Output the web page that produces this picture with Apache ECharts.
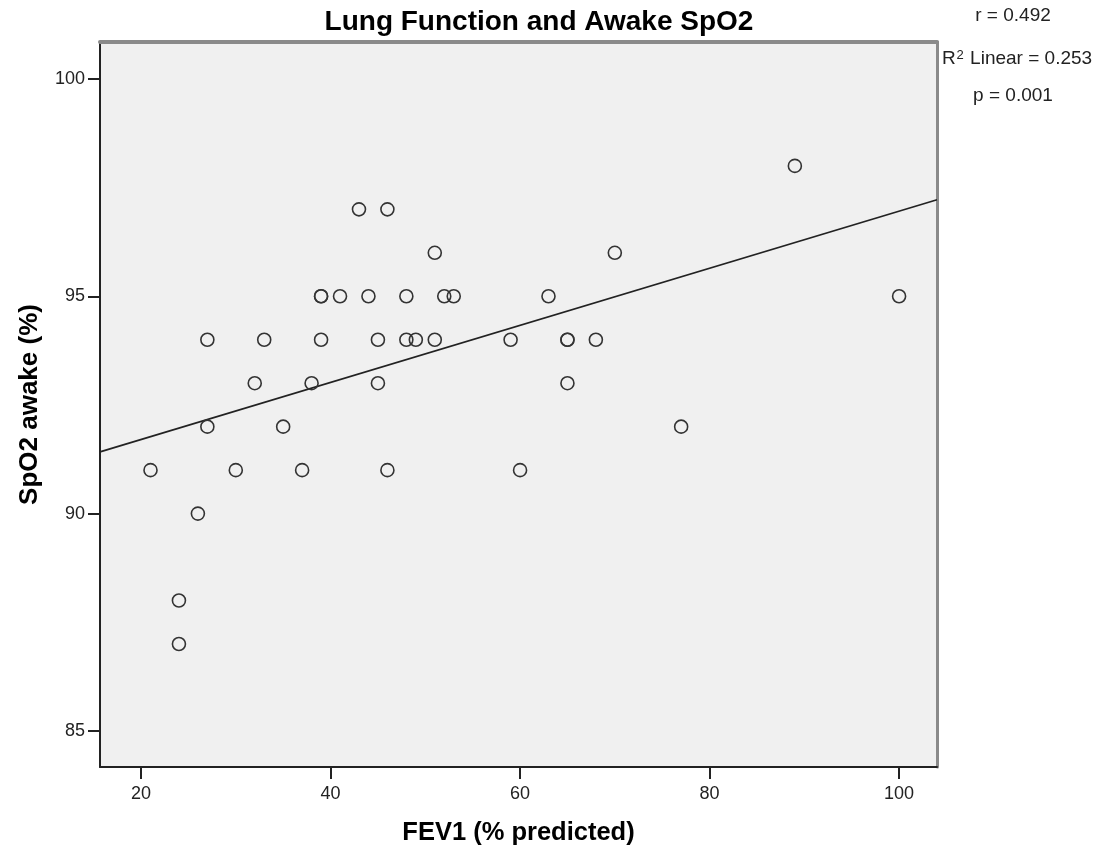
<!DOCTYPE html>
<html>
<head>
<meta charset="utf-8">
<script src="https://cdn.jsdelivr.net/npm/echarts@6/dist/echarts.min.js"></script>
<style>html,body{margin:0;padding:0;background:#fff}#c{width:1100px;height:854px}</style>
</head>
<body>
<div id="c"></div>
<script>
const fev1 = [21,24,24,26,27,27,30,32,33,35,37,38,39,39,39,41,43,44,45,45,46,46,48,48,49,51,51,52,53,59,60,63,65,65,65,68,70,77,89,100];
const spo2 = [91,88,87,90,94,92,91,93,94,92,91,93,95,95,94,95,97,95,94,93,97,91,95,94,94,96,94,95,95,94,91,95,94,94,93,94,96,92,98,95];
const fitLineX = [15.67, 104];
const fitLineY = [91.42, 97.22];
const xTicks = [20,40,60,80,100];
const yTicks = [85,90,95,100];
const statsText = ['r = 0.492', '{n|R}{s|2}{n| Linear = 0.253}', 'p = 0.001'];

const FONT = '"Liberation Sans", Arial, sans-serif';
const chart = echarts.init(document.getElementById('c'));
const points = fev1.map((v,i)=>[v, spo2[i]]);
const fit = fitLineX.map((v,i)=>[v, fitLineY[i]]);

chart.setOption({
  animation: false,
  backgroundColor: '#ffffff',
  title: {
    text: 'Lung Function and Awake SpO2',
    left: 539, top: 8, textAlign: 'center', padding: 0,
    textStyle: {fontFamily: FONT, fontSize: 28, fontWeight: 'bold', color: '#000'}
  },
  grid: {left: 100, right: 163, top: 42, bottom: 87, show: true, backgroundColor: '#f0f0f0', borderWidth: 0},
  xAxis: [{
    type: 'value', min: 15.67, max: 104, position: 'bottom',
    axisLine: {show: true, onZero: false, lineStyle: {color: '#222', width: 2}},
    axisTick: {show: true, customValues: xTicks, length: 12, lineStyle: {color: '#222', width: 2}},
    axisLabel: {customValues: xTicks, margin: 18, fontFamily: FONT, fontSize: 18, color: '#222'},
    splitLine: {show: false},
    name: 'FEV1 (% predicted)', nameLocation: 'middle', nameGap: 53,
    nameTextStyle: {fontFamily: FONT, fontSize: 25.5, fontWeight: 'bold', color: '#000'}
  }, {
    type: 'value', min: 15.67, max: 104, position: 'top',
    axisLine: {show: true, onZero: false, lineStyle: {color: '#8a8a8a', width: 4}},
    axisTick: {show: false}, axisLabel: {show: false}, splitLine: {show: false}
  }],
  yAxis: [{
    type: 'value', min: 84.17, max: 100.85, position: 'left',
    axisLine: {show: true, onZero: false, lineStyle: {color: '#222', width: 2}},
    axisTick: {show: true, customValues: yTicks, length: 12, lineStyle: {color: '#222', width: 2}},
    axisLabel: {customValues: yTicks, margin: 15, fontFamily: FONT, fontSize: 18, color: '#222'},
    splitLine: {show: false},
    name: 'SpO2 awake (%)', nameLocation: 'middle', nameGap: 57, nameRotate: 90,
    nameTextStyle: {fontFamily: FONT, fontSize: 26, fontWeight: 'bold', color: '#000'}
  }, {
    type: 'value', min: 84.17, max: 100.85, position: 'right',
    axisLine: {show: true, onZero: false, lineStyle: {color: '#8a8a8a', width: 3}},
    axisTick: {show: false}, axisLabel: {show: false}, splitLine: {show: false}
  }],
  series: [{
    type: 'line', data: fit, xAxisIndex: 0, yAxisIndex: 0,
    symbol: 'none', lineStyle: {color: '#222', width: 1.6}, silent: true, z: 2
  }, {
    type: 'scatter', data: points, xAxisIndex: 0, yAxisIndex: 0,
    symbol: 'circle', symbolSize: 13,
    itemStyle: {color: 'rgba(0,0,0,0)', borderColor: '#333', borderWidth: 1.6, opacity: 1},
    z: 3
  }],
  graphic: [
    {type: 'text', x: 1013, y: 16, style: {text: statsText[0], textAlign: 'center', textVerticalAlign: 'middle', fontFamily: FONT, fontSize: 19, fill: '#222'}},
    {type: 'text', x: 1017, y: 59, style: {
      text: statsText[1], textAlign: 'center', textVerticalAlign: 'middle', fontFamily: FONT, fontSize: 19, fill: '#222',
      rich: {n: {fontFamily: FONT, fontSize: 19, fill: '#222'}, s: {fontFamily: FONT, fontSize: 13, fill: '#222', verticalAlign: 'top', padding: [0,1,7,1]}}
    }},
    {type: 'text', x: 1013, y: 96, style: {text: statsText[2], textAlign: 'center', textVerticalAlign: 'middle', fontFamily: FONT, fontSize: 19, fill: '#222'}}
  ]
});
</script>
</body>
</html>
